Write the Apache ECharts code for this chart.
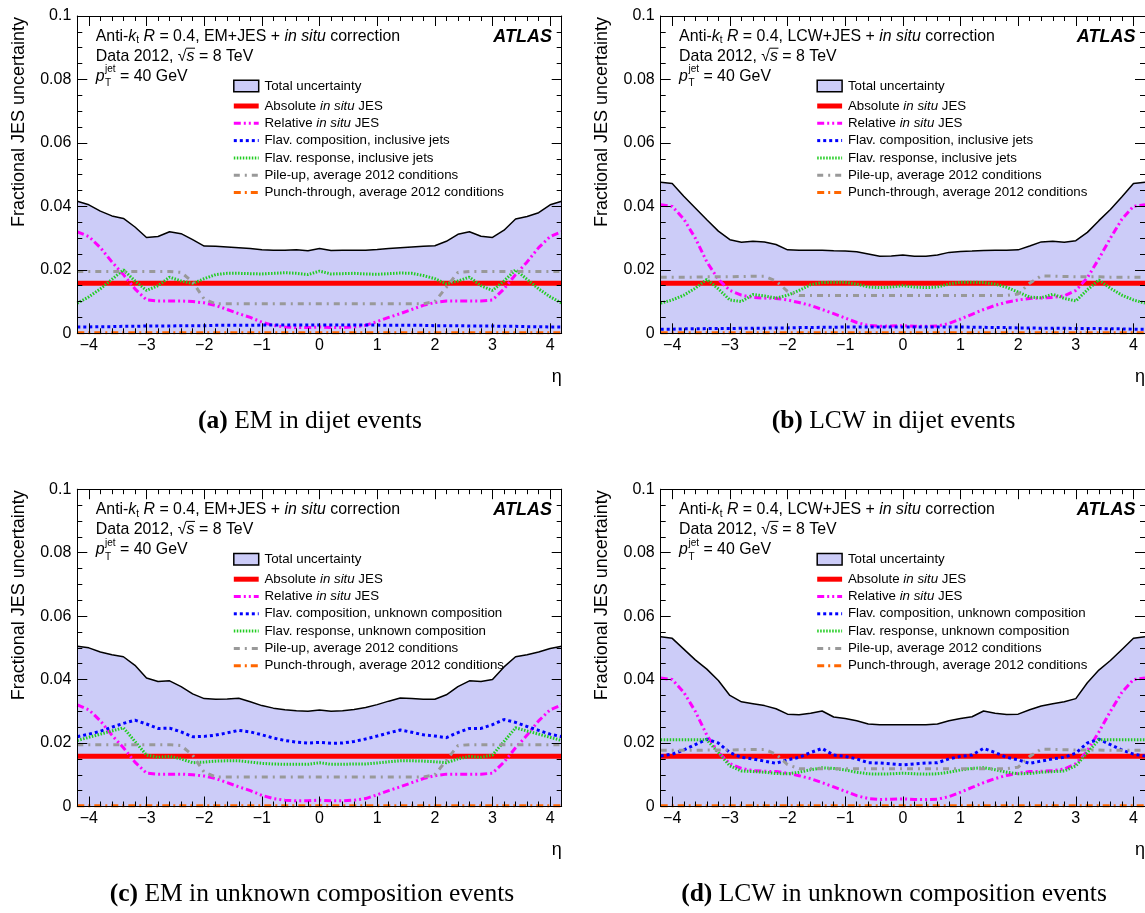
<!DOCTYPE html>
<html><head><meta charset="utf-8">
<script src="https://cdn.jsdelivr.net/npm/echarts@6/dist/echarts.min.js"></script>
<style>html,body{margin:0;padding:0;background:#fff}#c{width:1145px;height:913px}</style>
</head><body><div id="c"></div>
<script>
// ---------------- DATA ----------------
const eta = [-4.2,-4.0,-3.8,-3.6,-3.4,-3.2,-3.0,-2.8,-2.6,-2.4,-2.2,-2.0,-1.8,-1.6,-1.4,-1.2,-1.0,-0.8,-0.6,-0.4,-0.2,0,0.2,0.4,0.6,0.8,1.0,1.2,1.4,1.6,1.8,2.0,2.2,2.4,2.6,2.8,3.0,3.2,3.4,3.6,3.8,4.0,4.2];
const xTicks = [-4,-3,-2,-1,0,1,2,3,4];
const xTickLabels = ['\u22124','\u22123','\u22122','\u22121','0','1','2','3','4'];
const yTickLabels = ['0','0.02','0.04','0.06','0.08','0.1'];

// (a) EM, dijet
const totalEMdijet = [0.0416,0.0405,0.0385,0.0370,0.0362,0.0335,0.0302,0.0305,0.0320,0.0314,0.0295,0.0275,0.0274,0.0272,0.0270,0.0267,0.0263,0.0262,0.0262,0.0263,0.0260,0.0267,0.0261,0.0262,0.0262,0.0262,0.0264,0.0267,0.0270,0.0272,0.0274,0.0276,0.0290,0.0312,0.0320,0.0306,0.0302,0.0325,0.0360,0.0368,0.0380,0.0405,0.0416];
const compEMdijet = [0.0020,0.0020,0.0021,0.0021,0.0022,0.0022,0.0023,0.0023,0.0023,0.0024,0.0024,0.0024,0.0025,0.0025,0.0025,0.0025,0.0026,0.0026,0.0026,0.0026,0.0026,0.0026,0.0026,0.0026,0.0026,0.0026,0.0026,0.0025,0.0025,0.0025,0.0025,0.0024,0.0024,0.0024,0.0023,0.0023,0.0023,0.0022,0.0022,0.0021,0.0021,0.0020,0.0020];
const respEMdijet = [0.0095,0.0115,0.0140,0.0170,0.0200,0.0165,0.0135,0.0150,0.0177,0.0165,0.0157,0.0172,0.0185,0.0189,0.0189,0.0188,0.0187,0.0189,0.0191,0.0189,0.0185,0.0196,0.0187,0.0188,0.0189,0.0187,0.0186,0.0188,0.0190,0.0189,0.0182,0.0172,0.0156,0.0165,0.0177,0.0150,0.0135,0.0165,0.0200,0.0170,0.0140,0.0115,0.0095];
// EM, common to (a) and (c)
const relEM = [0.0320,0.0305,0.0270,0.0225,0.0185,0.0140,0.0105,0.0102,0.0102,0.0102,0.0100,0.0096,0.0088,0.0075,0.0062,0.0050,0.0035,0.0025,0.0020,0.0018,0.0018,0.0020,0.0018,0.0018,0.0020,0.0025,0.0037,0.0050,0.0062,0.0075,0.0088,0.0097,0.0102,0.0102,0.0102,0.0102,0.0105,0.0140,0.0185,0.0225,0.0270,0.0305,0.0320];
const pileEM = [0.0195,0.0195,0.0195,0.0195,0.0195,0.0195,0.0195,0.0195,0.0195,0.0192,0.0162,0.0108,0.0093,0.0093,0.0093,0.0093,0.0093,0.0093,0.0093,0.0093,0.0093,0.0093,0.0093,0.0093,0.0093,0.0093,0.0093,0.0093,0.0093,0.0093,0.0093,0.0100,0.0145,0.0192,0.0195,0.0195,0.0195,0.0195,0.0195,0.0195,0.0195,0.0195,0.0195];
const absInsitu = [0.0158,0.0158,0.0158,0.0158,0.0158,0.0158,0.0158,0.0158,0.0158,0.0158,0.0158,0.0158,0.0158,0.0158,0.0158,0.0158,0.0158,0.0158,0.0158,0.0158,0.0158,0.0158,0.0158,0.0158,0.0158,0.0158,0.0158,0.0158,0.0158,0.0158,0.0158,0.0158,0.0158,0.0158,0.0158,0.0158,0.0158,0.0158,0.0158,0.0158,0.0158,0.0158,0.0158];
const punchThrough = [0.0002,0.0002,0.0002,0.0002,0.0002,0.0002,0.0002,0.0002,0.0002,0.0002,0.0002,0.0002,0.0002,0.0002,0.0002,0.0002,0.0002,0.0002,0.0002,0.0002,0.0002,0.0002,0.0002,0.0002,0.0002,0.0002,0.0002,0.0002,0.0002,0.0002,0.0002,0.0002,0.0002,0.0002,0.0002,0.0002,0.0002,0.0002,0.0002,0.0002,0.0002,0.0002,0.0002];

// (b) LCW, dijet
const totalLCWdijet = [0.0476,0.0472,0.0432,0.0395,0.0358,0.0322,0.0295,0.0287,0.0290,0.0288,0.0280,0.0263,0.0262,0.0262,0.0262,0.0260,0.0259,0.0257,0.0250,0.0243,0.0244,0.0247,0.0243,0.0243,0.0247,0.0255,0.0258,0.0259,0.0261,0.0262,0.0262,0.0263,0.0275,0.0288,0.0290,0.0287,0.0292,0.0318,0.0355,0.0390,0.0430,0.0472,0.0476];
const compLCWdijet = [0.0013,0.0013,0.0014,0.0014,0.0015,0.0015,0.0015,0.0016,0.0016,0.0016,0.0017,0.0017,0.0018,0.0018,0.0019,0.0019,0.0020,0.0020,0.0020,0.0020,0.0020,0.0020,0.0020,0.0020,0.0020,0.0020,0.0020,0.0019,0.0019,0.0018,0.0018,0.0017,0.0017,0.0016,0.0016,0.0016,0.0015,0.0015,0.0015,0.0014,0.0014,0.0013,0.0013];
const respLCWdijet = [0.0095,0.0105,0.0120,0.0142,0.0170,0.0140,0.0105,0.0100,0.0122,0.0118,0.0111,0.0120,0.0135,0.0153,0.0160,0.0161,0.0161,0.0155,0.0146,0.0144,0.0146,0.0150,0.0146,0.0144,0.0146,0.0155,0.0161,0.0161,0.0160,0.0155,0.0145,0.0130,0.0114,0.0112,0.0123,0.0110,0.0102,0.0137,0.0168,0.0142,0.0120,0.0105,0.0095];
// LCW, common to (b) and (d)
const relLCW = [0.0405,0.0400,0.0360,0.0300,0.0225,0.0170,0.0135,0.0120,0.0113,0.0111,0.0110,0.0105,0.0097,0.0088,0.0075,0.0062,0.0048,0.0034,0.0025,0.0022,0.0023,0.0024,0.0022,0.0022,0.0023,0.0031,0.0045,0.0060,0.0075,0.0088,0.0098,0.0105,0.0110,0.0111,0.0113,0.0118,0.0135,0.0175,0.0235,0.0300,0.0360,0.0400,0.0405];
const pileLCW = [0.0177,0.0177,0.0177,0.0177,0.0178,0.0178,0.0178,0.0179,0.0180,0.0180,0.0165,0.0132,0.0119,0.0119,0.0119,0.0119,0.0119,0.0119,0.0119,0.0119,0.0119,0.0119,0.0119,0.0119,0.0119,0.0119,0.0119,0.0119,0.0119,0.0119,0.0119,0.0124,0.0158,0.0181,0.0180,0.0179,0.0178,0.0178,0.0178,0.0177,0.0177,0.0177,0.0177];

// (c) EM, unknown composition
const totalEMunk = [0.0505,0.0500,0.0487,0.0478,0.0472,0.0445,0.0405,0.0394,0.0396,0.0378,0.0355,0.0340,0.0338,0.0339,0.0341,0.0330,0.0318,0.0310,0.0305,0.0302,0.0300,0.0304,0.0300,0.0302,0.0306,0.0312,0.0321,0.0332,0.0342,0.0340,0.0338,0.0338,0.0352,0.0378,0.0396,0.0394,0.0400,0.0440,0.0472,0.0478,0.0487,0.0498,0.0505];
const compEMunk = [0.0220,0.0228,0.0237,0.0250,0.0262,0.0272,0.0260,0.0246,0.0247,0.0235,0.0220,0.0221,0.0225,0.0232,0.0240,0.0235,0.0226,0.0216,0.0208,0.0203,0.0200,0.0202,0.0199,0.0200,0.0205,0.0213,0.0222,0.0232,0.0241,0.0234,0.0226,0.0222,0.0217,0.0233,0.0246,0.0246,0.0258,0.0274,0.0265,0.0252,0.0240,0.0228,0.0220];
const respEMunk = [0.0208,0.0218,0.0228,0.0238,0.0248,0.0205,0.0162,0.0155,0.0158,0.0150,0.0138,0.0140,0.0143,0.0144,0.0144,0.0140,0.0136,0.0134,0.0133,0.0133,0.0133,0.0138,0.0133,0.0133,0.0134,0.0134,0.0137,0.0141,0.0144,0.0144,0.0143,0.0141,0.0138,0.0150,0.0158,0.0155,0.0162,0.0205,0.0248,0.0238,0.0228,0.0218,0.0208];

// (d) LCW, unknown composition
const totalLCWunk = [0.0535,0.0530,0.0496,0.0462,0.0433,0.0397,0.0350,0.0330,0.0324,0.0318,0.0308,0.0291,0.0289,0.0294,0.0301,0.0282,0.0277,0.0270,0.0260,0.0258,0.0258,0.0258,0.0258,0.0258,0.0260,0.0270,0.0277,0.0283,0.0301,0.0294,0.0290,0.0291,0.0305,0.0317,0.0324,0.0330,0.0340,0.0390,0.0430,0.0460,0.0495,0.0530,0.0535];
const compLCWunk = [0.0159,0.0165,0.0178,0.0195,0.0212,0.0200,0.0170,0.0155,0.0150,0.0143,0.0136,0.0147,0.0155,0.0170,0.0183,0.0162,0.0158,0.0150,0.0138,0.0137,0.0134,0.0131,0.0134,0.0137,0.0138,0.0150,0.0158,0.0162,0.0183,0.0170,0.0155,0.0147,0.0136,0.0143,0.0150,0.0155,0.0168,0.0200,0.0212,0.0195,0.0178,0.0165,0.0159];
const respLCWunk = [0.0210,0.0210,0.0210,0.0210,0.0210,0.0170,0.0128,0.0112,0.0110,0.0108,0.0104,0.0103,0.0108,0.0116,0.0122,0.0120,0.0115,0.0108,0.0103,0.0102,0.0103,0.0105,0.0103,0.0102,0.0103,0.0108,0.0115,0.0120,0.0122,0.0116,0.0108,0.0103,0.0104,0.0108,0.0110,0.0112,0.0128,0.0170,0.0210,0.0210,0.0210,0.0210,0.0210];

// ---------------- STYLE / LAYOUT ----------------
const FAM = '"Liberation Sans", Arial, Helvetica, sans-serif';
const SERIF = '"Liberation Serif", "Times New Roman", serif';
const fnt = (size, style, weight, fam) => [style, weight, size + 'px', fam || FAM].filter(Boolean).join(' ');
const FILL = '#ccccf8';
const styles = {
  abs:   {c:'#ff0000', w:5, d:null},
  rel:   {c:'#ff00ff', w:3, d:[7,3,2,3,2,3]},
  comp:  {c:'#0000ff', w:3, d:[3,3]},
  resp:  {c:'#22cc22', w:3, d:[1.5,1.5]},
  pile:  {c:'#999999', w:3, d:[6,5,2,5]},
  punch: {c:'#ff6600', w:3, d:[7,4,2,4]}
};

const panels = [
  {L:77.3, T:16, W:484.4, H:317.3, method:'EM', flav:'inclusive jets', tag:'(a)', cap:' EM in dijet events', capX:310, capY:421.7,
   total:totalEMdijet, abs:absInsitu, rel:relEM, comp:compEMdijet, resp:respEMdijet, pile:pileEM, punch:punchThrough},
  {L:660.7, T:16, W:484.3, H:317.3, method:'LCW', flav:'inclusive jets', tag:'(b)', cap:' LCW in dijet events', capX:893.5, capY:421.7,
   total:totalLCWdijet, abs:absInsitu, rel:relLCW, comp:compLCWdijet, resp:respLCWdijet, pile:pileLCW, punch:punchThrough},
  {L:77.3, T:489.2, W:484.4, H:317.3, method:'EM', flav:'unknown composition', tag:'(c)', cap:' EM in unknown composition events', capX:312, capY:894,
   total:totalEMunk, abs:absInsitu, rel:relEM, comp:compEMunk, resp:respEMunk, pile:pileEM, punch:punchThrough},
  {L:660.7, T:489.2, W:484.3, H:317.3, method:'LCW', flav:'unknown composition', tag:'(d)', cap:' LCW in unknown composition events', capX:894, capY:894,
   total:totalLCWunk, abs:absInsitu, rel:relLCW, comp:compLCWunk, resp:respLCWunk, pile:pileLCW, punch:punchThrough}
];

// minor tick positions on eta axis (every 0.2)
const xMinor = [];
for (let k = -21; k <= 21; k++) { const v = Math.round(k * 2) / 10; if (Math.abs(v - Math.round(v)) > 1e-6) xMinor.push(v); }

const mctx = document.createElement('canvas').getContext('2d');
function tw(t, font) { mctx.font = font; return mctx.measureText(t).width; }
// parts: [text, font, dy]
function runs(x, y, parts, align) {
  const widths = parts.map(p => p[3] !== undefined ? p[3] : tw(p[0], p[1]));
  const total = widths.reduce((a, b) => a + b, 0);
  let cx = align === 'center' ? x - total / 2 : align === 'right' ? x - total : x;
  const out = [];
  parts.forEach((p, i) => {
    out.push({type:'text', silent:true, z:100, x:cx, y:y + (p[2] || 0),
      style:{text:p[0], font:p[1], fill:'#000', align:'left', verticalAlign:'middle'}});
    cx += widths[i];
  });
  return {els: out, end: cx};
}

const grids = [], xAxes = [], yAxes = [], series = [], graphics = [];
const axLine = {show:true, onZero:false, lineStyle:{color:'#000', width:1}};
const tickLs = {color:'#000', width:1};

panels.forEach((p, i) => {
  grids.push({left:p.L, top:p.T, width:p.W, height:p.H, containLabel:false, show:false});
  const xb = {gridIndex:i, type:'value', min:-4.2, max:4.2, splitLine:{show:false}, z:10};
  const xi = xAxes.length;
  xAxes.push(Object.assign({}, xb, {position:'bottom', axisLine:axLine,
    axisTick:{show:true, inside:true, length:10, customValues:xTicks, lineStyle:tickLs},
    axisLabel:{show:true, customValues:xTicks, color:'#000', fontSize:16, fontFamily:FAM, margin:4,
      formatter: v => xTickLabels[xTicks.indexOf(Math.round(v))]}}));
  xAxes.push(Object.assign({}, xb, {position:'top', axisLine:axLine,
    axisTick:{show:true, inside:true, length:10, customValues:xTicks, lineStyle:tickLs}, axisLabel:{show:false}}));
  xAxes.push(Object.assign({}, xb, {position:'bottom', axisLine:{show:false, onZero:false},
    axisTick:{show:true, inside:true, length:5, customValues:xMinor, lineStyle:tickLs}, axisLabel:{show:false}}));
  xAxes.push(Object.assign({}, xb, {position:'top', axisLine:{show:false, onZero:false},
    axisTick:{show:true, inside:true, length:5, customValues:xMinor, lineStyle:tickLs}, axisLabel:{show:false}}));

  const yb = {gridIndex:i, type:'value', min:0, max:0.1, interval:0.02, splitLine:{show:false}, z:10,
    minorTick:{show:true, splitNumber:4, length:5, lineStyle:tickLs}, minorSplitLine:{show:false}};
  const yi = yAxes.length;
  yAxes.push(Object.assign({}, yb, {position:'left', axisLine:axLine,
    axisTick:{show:true, inside:true, length:10, lineStyle:tickLs},
    axisLabel:{show:true, color:'#000', fontSize:16, fontFamily:FAM, margin:6,
      formatter: v => yTickLabels[Math.round(v / 0.02)]}}));
  yAxes.push(Object.assign({}, yb, {position:'right', axisLine:axLine,
    axisTick:{show:true, inside:true, length:10, lineStyle:tickLs}, axisLabel:{show:false}}));

  const mk = arr => eta.map((x, k) => [x, arr[k]]);
  series.push({type:'line', name:'Total uncertainty', xAxisIndex:xi, yAxisIndex:yi, data:mk(p.total),
    symbol:'none', showSymbol:false, lineStyle:{color:'#000', width:1.5}, areaStyle:{color:FILL, opacity:1}, z:2, silent:true});
  ['abs','rel','comp','resp','pile','punch'].forEach(key => {
    const s = styles[key];
    series.push({type:'line', xAxisIndex:xi, yAxisIndex:yi, data:mk(p[key]), symbol:'none', showSymbol:false, silent:true, z:3,
      lineStyle:{color:s.c, width:s.w, type:s.d || 'solid', cap:'butt'}});
  });

  // ----- texts -----
  const L = p.L, T = p.T;
  const f15 = fnt(15.9), f15i = fnt(15.9, 'italic'), f10 = fnt(10);
  let r = runs(L + 18.4, T + 20.7, [
    ['Anti-', f15], ['k', f15i], ['t', f10, 4], [' ', f15], ['R', f15i],
    [' = 0.4, ' + p.method + '+JES + ', f15], ['in situ', f15i], [' correction', f15]]);
  graphics.push(...r.els);
  // line 2 with sqrt(s)
  r = runs(L + 18.4, T + 40.7, [['Data 2012, ', f15], ['\u221A', f15]]);
  graphics.push(...r.els);
  const sx = r.end;
  const r2 = runs(sx, T + 40.7, [['s', f15i], [' = 8 TeV', f15]]);
  graphics.push(...r2.els);
  const sw = tw('s', f15i);
  graphics.push({type:'line', silent:true, z:100, shape:{x1:sx - 0.5, y1:T + 40.7 - 8.5, x2:sx + sw + 0.5, y2:T + 40.7 - 8.5}, style:{stroke:'#000', lineWidth:1}});
  // line 3 p_T^jet
  const px = L + 18.4, py = T + 60.7;
  r = runs(px, py, [['p', f15i]]);
  graphics.push(...r.els);
  const subX = r.end + 0.5;
  graphics.push(...runs(subX, py - 7, [['jet', f10]]).els);
  graphics.push(...runs(subX, py + 7, [['T', f10]]).els);
  const afterX = subX + Math.max(tw('jet', f10), tw('T', f10));
  graphics.push(...runs(afterX, py, [[' = 40 GeV', f15]]).els);
  // ATLAS
  graphics.push(...runs(L + 474.7, T + 20.7, [['ATLAS', fnt(18, 'italic', 'bold')]], 'right').els);

  // ----- legend -----
  const lx1 = L + 156.5, lx2 = L + 181.4, ltx = L + 187.2;
  const f13 = fnt(13.3), f13i = fnt(13.3, 'italic');
  const rows = [70, 90, 107.3, 124.6, 141.9, 159.2, 176.5];
  graphics.push({type:'rect', silent:true, z:100, shape:{x:lx1, y:T + rows[0] - 5.8, width:lx2 - lx1, height:11.6},
    style:{fill:FILL, stroke:'#000', lineWidth:1.5}});
  const legTexts = [
    [['Total uncertainty', f13]],
    [['Absolute ', f13], ['in situ', f13i], [' JES', f13]],
    [['Relative ', f13], ['in situ', f13i], [' JES', f13]],
    [['Flav. composition, ' + p.flav, f13]],
    [['Flav. response, ' + p.flav, f13]],
    [['Pile-up, average 2012 conditions', f13]],
    [['Punch-through, average 2012 conditions', f13]]
  ];
  ['abs','rel','comp','resp','pile','punch'].forEach((key, k) => {
    const s = styles[key];
    const yy = T + rows[k + 1];
    graphics.push({type:'line', silent:true, z:100, shape:{x1:lx1, y1:yy, x2:lx2, y2:yy},
      style:{stroke:s.c, lineWidth:s.w, lineDash:s.d || null, lineCap:'butt'}});
  });
  legTexts.forEach((parts, k) => graphics.push(...runs(ltx, T + rows[k], parts).els));

  // axis titles
  graphics.push({type:'text', silent:true, z:100, x:L - 58.3, y:T + 1, rotation:Math.PI / 2,
    style:{text:'Fractional JES uncertainty', font:fnt(18), fill:'#000', align:'right', verticalAlign:'middle'}});
  graphics.push(...runs(L + 479.4, T + 360.7, [['\u03B7', fnt(18)]], 'center').els);

  // caption
  graphics.push(...runs(p.capX, p.capY, [[p.tag, fnt(25.5, '', 'bold', SERIF)], [p.cap, fnt(25.5, '', '', SERIF)]], 'center').els);
});

const chart = echarts.init(document.getElementById('c'), null, {renderer:'canvas', width:1145, height:913});
chart.setOption({
  animation:false,
  backgroundColor:'#ffffff',
  grid:grids, xAxis:xAxes, yAxis:yAxes, series:series,
  graphic:{elements:graphics}
});
</script>
</body></html>
